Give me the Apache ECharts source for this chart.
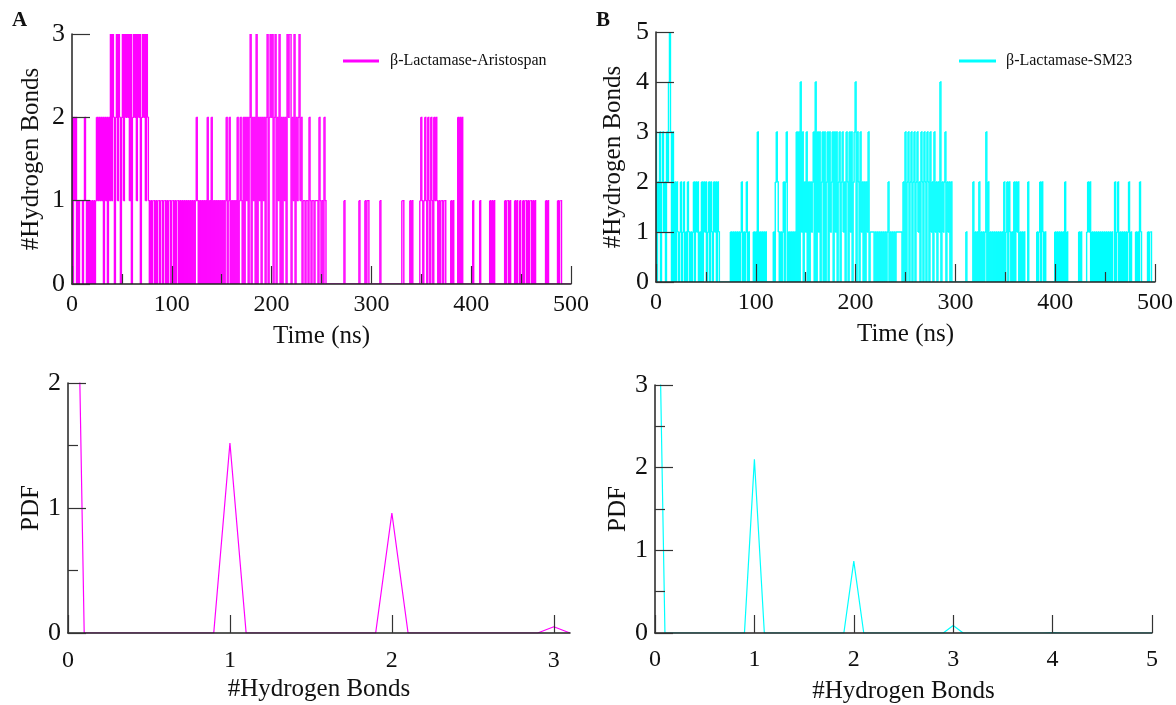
<!DOCTYPE html>
<html>
<head>
<meta charset="utf-8">
<script src="https://cdn.jsdelivr.net/npm/echarts@6/dist/echarts.min.js"></script>
<style>
html,body{margin:0;padding:0;background:#fff;}
#chart{width:1176px;height:705px;}
</style>
</head>
<body>
<div id="chart"></div>
<script>
// ---------- DATA ----------
const timeStepNs = 1; // sampling step of the H-bond time series (ns)

// Panel A: beta-Lactamase-Aristospan, number of H-bonds, t = 0..500 ns
const hbondsA = [
2,0,2,1,2,0,1,0,1,1, 1,0,1,2,1,0,1,0,1,0, 1,0,1,0,1,2,1,2,1,2, 1,2,0,2,1,2,0,2,1,3,
1,3,2,0,2,3,1,3,2,0, 2,3,1,3,2,3,2,3,1,3, 0,2,3,2,3,1,3,2,3,0, 2,3,2,3,1,3,2,1,0,1,
0,1,1,0,1,0,1,1,0,1, 1,0,1,1,0,1,0,1,1,0, 1,1,0,1,0,1,1,0,1,0, 1,0,1,0,1,0,1,0,1,0,
1,0,1,0,1,2,1,0,1,0, 1,0,1,0,1,0,2,0,1,0, 2,0,1,0,1,0,1,0,1,0, 1,0,1,0,1,2,0,1,2,0,
1,0,1,0,1,0,2,0,1,2, 1,0,2,0,2,1,2,0,2,3, 0,2,1,2,0,3,0,2,1,2, 0,2,1,2,0,2,3,0,2,3,
2,3,0,2,3,0,2,1,3,0, 2,0,2,1,2,0,3,2,3,3, 0,2,1,3,0,2,1,2,3,1, 2,0,1,1,0,1,1,0,2,1,
0,1,1,0,1,1,1,0,2,1, 0,1,0,2,1,0,0,0,0,0, 0,0,0,0,0,0,0,0,0,0, 0,0,0,1,0,0,0,0,0,0,
0,0,0,0,0,0,0,0,1,0, 0,0,0,0,1,0,1,1,0,0, 0,0,0,0,0,0,0,0,0,1, 0,0,0,0,0,0,0,0,0,0,
0,0,0,0,0,0,0,0,0,0, 0,1,1,0,0,0,0,0,0,1, 0,1,0,0,0,0,0,0,0,1, 2,1,0,1,2,1,0,2,1,0,
2,1,0,2,1,2,1,0,1,0, 1,1,0,1,1,0,0,0,0,0, 1,0,1,0,0,0,0,2,0,2, 0,2,0,0,0,0,0,0,0,0,
0,0,1,0,0,0,0,0,0,1, 0,0,0,0,0,0,0,0,0,1, 0,1,0,1,0,0,0,0,0,0, 0,0,0,0,1,0,1,1,0,1,
0,0,0,0,1,0,1,0,0,1, 0,0,1,0,1,1,0,1,0,1, 1,0,1,0,1,0,0,0,0,0, 0,0,0,0,0,1,0,1,0,0,
0,0,0,0,0,0,0,1,0,1, 1,0,0,0,0,0,0,0,0,0, 0
];

// Panel B: beta-Lactamase-SM23, number of H-bonds, t = 0..500 ns
const hbondsB = [
3,0,2,1,3,0,2,3,1,2, 0,3,2,4,5,3,0,3,0,2, 0,2,1,0,1,2,0,1,2,0, 1,0,2,1,0,1,0,1,2,0,
2,1,2,0,1,0,2,0,2,1, 2,0,1,2,0,2,1,0,2,1, 2,0,2,1,0,0,0,0,0,0, 0,0,0,0,0,1,0,1,0,1,
0,1,0,1,0,1,2,0,1,0, 1,2,0,1,0,0,0,0,1,0, 1,0,3,0,1,0,1,0,1,0, 1,0,0,0,0,0,0,0,1,0,
2,3,2,1,0,1,0,1,2,0, 2,3,0,1,0,1,0,1,0,1, 0,3,0,3,0,4,1,3,0,2, 1,3,0,2,0,2,1,2,3,0,
4,0,3,1,3,0,2,3,0,3, 0,2,3,0,3,1,2,3,0,3, 1,3,0,2,3,0,2,3,1,2, 0,3,2,0,3,1,3,0,2,3,
4,0,3,2,0,3,1,2,0,2, 0,2,1,3,0,1,1,1,1,0, 1,0,1,0,1,0,1,0,1,0, 1,0,1,2,0,1,0,1,0,1,
0,1,1,1,1,1,1,0,2,0, 3,0,2,3,0,2,3,0,2,3, 0,2,3,1,2,0,3,2,0,3, 2,0,3,2,0,3,1,2,0,3,
1,2,0,2,1,4,0,2,1,2, 3,0,2,1,2,0,2,0,0,0, 0,0,0,0,0,0,0,0,0,0, 0,1,0,0,0,0,0,0,2,0,
1,0,1,0,2,0,1,0,1,0, 1,3,0,2,0,1,0,1,0,1, 0,1,0,1,0,1,0,1,0,2, 0,1,2,0,2,1,0,1,0,2,
0,2,1,2,0,1,0,1,0,1, 0,0,0,2,0,0,0,0,0,0, 0,0,1,0,1,2,0,2,1,0, 1,0,0,0,0,0,0,0,0,0,
1,0,1,0,1,0,1,0,1,0, 2,0,1,0,0,0,0,0,0,0, 0,0,0,0,1,0,1,0,0,0, 0,0,1,2,1,2,0,1,0,1,
0,1,0,1,0,1,0,1,0,1, 0,1,0,1,0,1,0,1,0,0, 2,0,1,2,0,1,0,1,0,1, 0,1,0,1,2,0,1,0,0,0,
0,1,0,1,0,2,1,0,0,0, 0,0,0,1,0,1,1,0,0,0, 0
];

// PDF of the number of H-bonds (bin width 0.1)
const pdfBondsA = [0, 0.1, 0.9, 1.0, 1.1, 1.9, 2.0, 2.1, 2.9, 3.0, 3.1];
const pdfValuesA = [7.47, 0, 0, 1.52, 0, 0, 0.96, 0, 0, 0.05, 0];
const pdfBondsB = [0, 0.1, 0.9, 1.0, 1.1, 1.9, 2.0, 2.1, 2.9, 3.0, 3.1, 3.9, 4.0, 4.1, 5.0];
const pdfValuesB = [6.94, 0, 0, 2.1, 0, 0, 0.87, 0, 0, 0.09, 0, 0, 0.005, 0, 0];

const nameA = 'β-Lactamase-Aristospan';
const nameB = 'β-Lactamase-SM23';
const colorA = '#ff00ff';
const colorB = '#00ffff';

// ---------- BUILD ----------
// each item: [time, value, next value] -> drawn as one step of a stepped trace
const stepItems = (arr) => arr.map((v, i) => [i * timeStepNs, v, i + 1 < arr.length ? arr[i + 1] : v]);
const seriesA = stepItems(hbondsA);
const seriesB = stepItems(hbondsB);
const pdfA = pdfBondsA.map((x, i) => [x, pdfValuesA[i]]);
const pdfB = pdfBondsB.map((x, i) => [x, pdfValuesB[i]]);

function stepRenderer(color) {
  return function (params, api) {
    const t = api.value(0), v = api.value(1), vn = api.value(2);
    const h = timeStepNs / 2;
    const p0 = api.coord([t - h, v]);
    const p1 = api.coord([t + h, v]);
    const p2 = api.coord([t + h, vn]);
    return {
      type: 'polyline', silent: true,
      shape: {points: [p0, p1, p2]},
      style: {stroke: color, lineWidth: 1.4, fill: null}
    };
  };
}

const FONT = '"Liberation Serif", "Times New Roman", serif';
const axisLineStyle = {color: '#222', width: 1.5};
const tickStyle = {color: '#333', width: 1.2};

function xAx(gi, opts) {
  return Object.assign({
    type: 'value', gridIndex: gi, z: 5,
    axisLine: {show: true, onZero: false, lineStyle: axisLineStyle},
    axisTick: {show: true, inside: true, length: 18, lineStyle: tickStyle},
    splitLine: {show: false},
    axisLabel: {fontFamily: FONT, fontSize: 24, color: '#111', margin: 9},
    nameLocation: 'middle',
    nameTextStyle: {fontFamily: FONT, fontSize: 25, color: '#111'}
  }, opts);
}
function yAx(gi, opts) {
  return Object.assign({
    type: 'value', gridIndex: gi, z: 5,
    axisLine: {show: true, onZero: false, lineStyle: axisLineStyle},
    axisTick: {show: true, inside: true, length: 18, lineStyle: tickStyle},
    splitLine: {show: false},
    axisLabel: {fontFamily: FONT, fontSize: 26, color: '#111', margin: 7},
    nameLocation: 'middle',
    nameTextStyle: {fontFamily: FONT, fontSize: 25, color: '#111'}
  }, opts);
}

const chart = echarts.init(document.getElementById('chart'), null, {renderer: 'canvas'});
chart.setOption({
  backgroundColor: '#fff',
  animation: false,
  grid: [
    {left: 72, top: 34, width: 499, height: 250},
    {left: 656, top: 32, width: 499, height: 250},
    {left: 68, top: 383, width: 502, height: 250},
    {left: 655, top: 385, width: 497, height: 250}
  ],
  xAxis: [
    xAx(0, {min: 0, max: 500, interval: 100, name: 'Time (ns)', nameGap: 40,
      minorTick: {show: true, splitNumber: 2, length: 10, lineStyle: tickStyle}}),
    xAx(1, {min: 0, max: 500, interval: 100, name: 'Time (ns)', nameGap: 40,
      minorTick: {show: true, splitNumber: 2, length: 10, lineStyle: tickStyle}}),
    xAx(2, {min: 0, max: 3.1, name: '#Hydrogen Bonds', nameGap: 44,
      axisTick: {show: true, inside: true, length: 18, lineStyle: tickStyle, customValues: [0, 1, 2, 3]},
      axisLabel: {fontFamily: FONT, fontSize: 24, color: '#111', margin: 16, customValues: [0, 1, 2, 3]}}),
    xAx(3, {min: 0, max: 5, interval: 1, name: '#Hydrogen Bonds', nameGap: 46,
      axisLabel: {fontFamily: FONT, fontSize: 24, color: '#111', margin: 15}})
  ],
  yAxis: [
    yAx(0, {min: 0, max: 3, interval: 1, name: '#Hydrogen Bonds', nameGap: 28}),
    yAx(1, {min: 0, max: 5, interval: 1, name: '#Hydrogen Bonds', nameGap: 30}),
    yAx(2, {min: 0, max: 2, interval: 1, name: 'PDF', nameGap: 22,
      minorTick: {show: true, splitNumber: 2, length: 10, lineStyle: tickStyle}}),
    yAx(3, {min: 0, max: 3, interval: 1, name: 'PDF', nameGap: 24,
      minorTick: {show: true, splitNumber: 2, length: 10, lineStyle: tickStyle}})
  ],
  legend: [
    {left: 343, top: 53, padding: 0, icon: 'rect', itemWidth: 36, itemHeight: 3, data: [nameA],
     textStyle: {fontFamily: FONT, fontSize: 16, color: '#111', padding: [0, 0, 0, 6]}},
    {left: 959, top: 53, padding: 0, icon: 'rect', itemWidth: 37, itemHeight: 3, data: [nameB],
     textStyle: {fontFamily: FONT, fontSize: 16, color: '#111', padding: [0, 0, 0, 5]}}
  ],
  graphic: [
    {type: 'text', left: 12, top: 10, style: {text: 'A', font: 'bold 21px ' + FONT, fill: '#111'}},
    {type: 'text', left: 596, top: 10, style: {text: 'B', font: 'bold 21px ' + FONT, fill: '#111'}}
  ],
  series: [
    {type: 'custom', name: nameA, xAxisIndex: 0, yAxisIndex: 0, data: seriesA, clip: true,
     renderItem: stepRenderer(colorA), itemStyle: {color: colorA}, z: 2},
    {type: 'custom', name: nameB, xAxisIndex: 1, yAxisIndex: 1, data: seriesB, clip: true,
     renderItem: stepRenderer(colorB), itemStyle: {color: colorB}, z: 2},
    {type: 'line', name: 'pdfA', xAxisIndex: 2, yAxisIndex: 2, data: pdfA, showSymbol: false,
     symbol: 'none', lineStyle: {color: colorA, width: 1.2}, itemStyle: {color: colorA}, z: 2},
    {type: 'line', name: 'pdfB', xAxisIndex: 3, yAxisIndex: 3, data: pdfB, showSymbol: false,
     symbol: 'none', lineStyle: {color: colorB, width: 1.2}, itemStyle: {color: colorB}, z: 2}
  ]
});
</script>
</body>
</html>
